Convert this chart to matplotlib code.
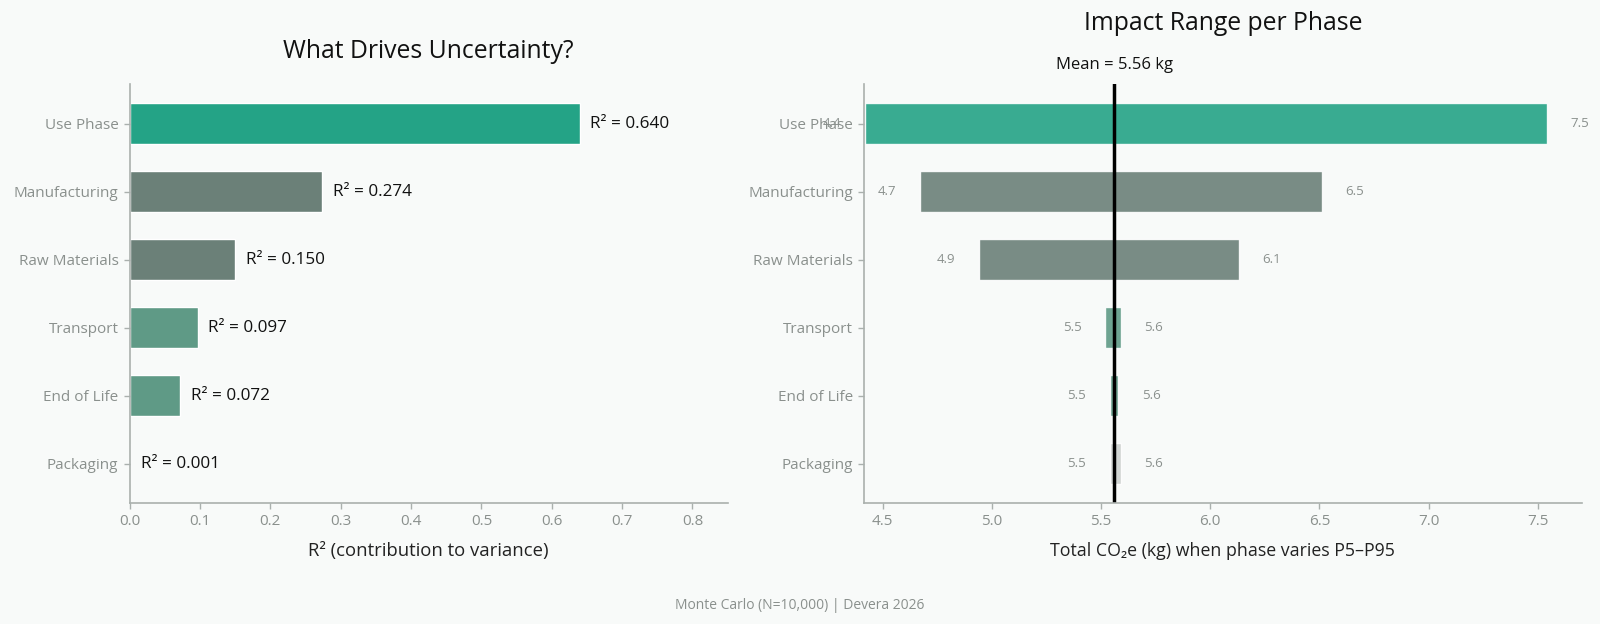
import numpy as np
import matplotlib
matplotlib.use("Agg")
import matplotlib.pyplot as plt

plt.rcParams['font.family'] = ['Open Sans', 'DejaVu Sans']

phases = ["Use Phase", "Manufacturing", "Raw Materials", "Transport", "End of Life", "Packaging"]
r2 = [0.640, 0.274, 0.150, 0.097, 0.072, 0.001]
p5_total = [4.42, 4.67, 4.94, 5.52, 5.54, 5.54]
p95_total = [7.54, 6.51, 6.13, 5.59, 5.58, 5.59]
mean_total = 5.56
bar_colors = ["#24a386", "#6b8078", "#6b8078", "#5f9a86", "#5f9a86", "#cdd1cf"]

bg = "#f8faf9"
grey = "#8a908d"
spine_c = "#aab0ad"

fig = plt.figure(figsize=(16, 6.24), dpi=100, facecolor=bg)
ax1 = fig.add_axes([0.081, 0.194, 0.3738, 0.671], facecolor=bg)
ax2 = fig.add_axes([0.540, 0.194, 0.4485, 0.671], facecolor=bg)

y = np.arange(len(phases))

# left: R² per phase
ax1.barh(y, r2, height=0.6, color=bar_colors, edgecolor="white", linewidth=1)
for yi, v in zip(y, r2):
    ax1.text(v + 0.015, yi, f"R² = {v:.3f}", va="center", ha="left", fontsize=12.3, color="#111111")
ax1.set_xlim(0, 0.85)
ax1.set_xticks(np.arange(0, 0.81, 0.1))
ax1.set_xlabel("R² (contribution to variance)", fontsize=13.3, color="#222222", labelpad=9)
ax1.set_title("What Drives Uncertainty?", fontsize=17.8, color="#111111", pad=19)

# right: tornado-style range
ax2.barh(y, np.array(p95_total) - np.array(p5_total), left=p5_total, height=0.6,
         color=bar_colors, alpha=0.9, edgecolor="white", linewidth=1)
for yi, lo, hi in zip(y, p5_total, p95_total):
    ax2.text(lo - 0.15, yi, f"{lo:.1f}", ha="center", va="center", fontsize=9.5, color=grey, clip_on=False)
    ax2.text(hi + 0.15, yi, f"{hi:.1f}", ha="center", va="center", fontsize=9.5, color=grey, clip_on=False)
ax2.axvline(mean_total, color="black", linewidth=2.5)
ax2.set_xlim(4.415, 7.70)
ax2.set_xticks(np.arange(4.5, 7.51, 0.5))
ax2.set_xlabel("Total CO₂e (kg) when phase varies P5–P95", fontsize=12.8, color="#222222", labelpad=9)
ax2.set_title("Impact Range per Phase", fontsize=17.8, color="#111111", pad=39)
ax2.annotate(f"Mean = {mean_total:.2f} kg", xy=(mean_total, 1.0), xycoords=("data", "axes fraction"),
             xytext=(0, 8), textcoords="offset points", ha="center", va="bottom",
             fontsize=12, color="#111111")

for ax in (ax1, ax2):
    ax.set_yticks(y)
    ax.set_yticklabels(phases)
    ax.set_ylim(len(phases) - 1 + 0.58, -0.58)
    for s in ("top", "right"):
        ax.spines[s].set_visible(False)
    for s in ("left", "bottom"):
        ax.spines[s].set_color(spine_c)
        ax.spines[s].set_linewidth(1.2)
    ax.tick_params(axis="both", colors=spine_c, labelcolor=grey, labelsize=11, length=4.5, width=1)

fig.text(0.5, 0.03, "Monte Carlo (N=10,000) | Devera 2026", ha="center", va="center", fontsize=10, color=grey)

fig.savefig("out.png", dpi=100, facecolor=bg)
